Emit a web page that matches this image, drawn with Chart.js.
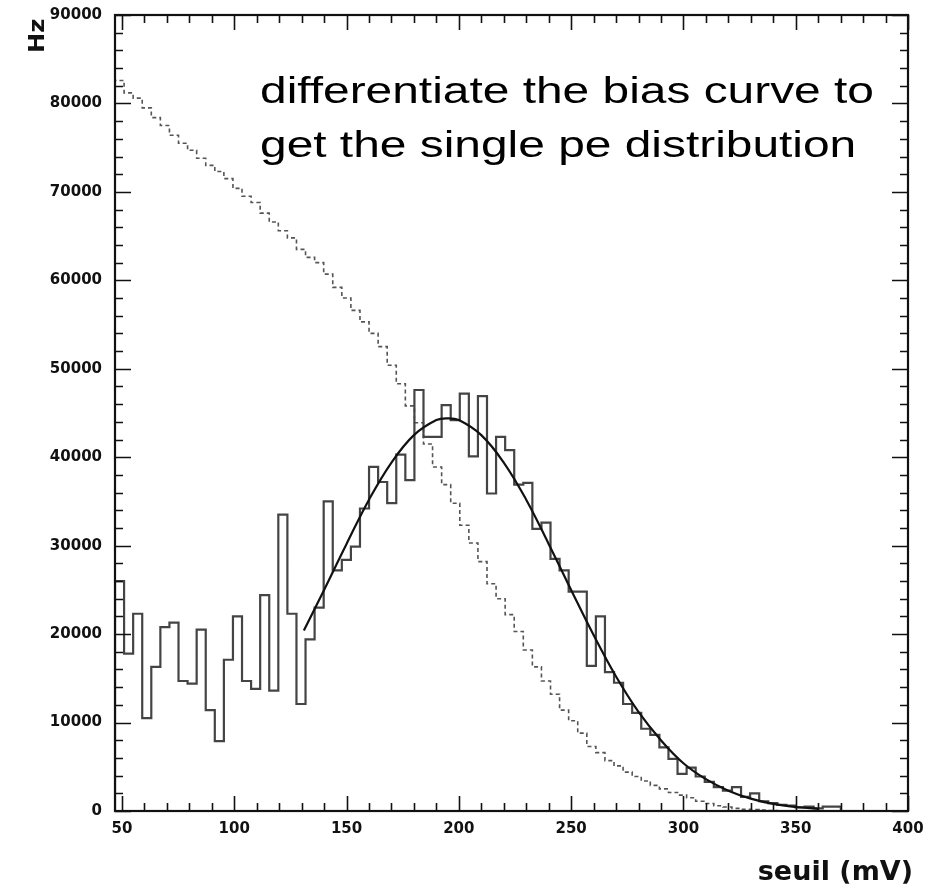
<!DOCTYPE html>
<html>
<head>
<meta charset="utf-8">
<title>seuil (mV)</title>
<script src="https://cdn.jsdelivr.net/npm/chart.js@4.4.1/dist/chart.umd.min.js"></script>
<style>
  html, body { margin: 0; padding: 0; background: #ffffff; }
  #plot { display: block; }
</style>
</head>
<body>
<canvas id="plot" width="929" height="892"></canvas>
<script>
// Threshold scan of a PMT: bias curve and its derivative (single pe spectrum)

// threshold bins (mV)
var binLow = 46.9;
var binWidth = 4.04;

// differentiated rate per threshold bin (Hz)
var pulseRate = [
  26000, 17800, 22300, 10500, 16300, 20800, 21300, 14700, 14400, 20500,
  11400, 7900, 17100, 22000, 14700, 13800, 24400, 13600, 33500, 22300,
  12100, 19400, 23000, 35000, 27200, 28400, 29900, 34200, 38900, 37200,
  34800, 40300, 37400, 47600, 42300, 42300, 45900, 44200, 47200, 40100,
  46900, 35900, 42300, 40800, 36900, 37100, 31900, 32600, 28500, 27200,
  24800, 24800, 16400, 22000, 15700, 14500, 12100, 11100, 9300, 8600,
  7200, 5900, 4200, 4900, 3900, 3300, 2700, 2300, 2700, 1600,
  2000, 1100, 900, 700, 600, 400, 500, 300, 500, 500
];

// raw bias curve: counting rate above threshold (Hz)
var biasRate = [
  82600, 81200, 80600, 79500, 78400, 77500, 76400, 75500, 74700, 73800,
  73000, 72300, 71500, 70400, 69500, 68800, 67600, 66600, 65600, 64800,
  63500, 62600, 62000, 60700, 59200, 58000, 56600, 55300, 54000, 52500,
  50400, 48300, 45800, 43900, 41500, 38900, 36900, 34800, 32300, 30300,
  28200, 25700, 24000, 22200, 20300, 18200, 16300, 14700, 13200, 11400,
  10200, 8800, 7300, 6600, 5700, 5100, 4400, 3900, 3400, 2900,
  2500, 2100, 1800, 1500, 1100, 850, 600, 450, 300, 200,
  150, 100, 50
];

// fitted single pe peak
var fitMv = [131, 140, 150, 160, 170, 180, 190, 195, 200, 210, 220, 230, 240,
             250, 260, 270, 280, 290, 300, 310, 320, 330, 340, 350, 360];
var fitHz = [20400, 25000, 30200, 35200, 39400, 42500, 44200, 44400, 44200, 42500, 39400, 35200, 30200,
             25000, 19900, 15200, 11200, 8000, 5400, 3600, 2300, 1400, 800, 450, 250];

// axis ticks
var xTickLabels = [50, 100, 150, 200, 250, 300, 350, 400];
var yTickLabels = [0, 10000, 20000, 30000, 40000, 50000, 60000, 70000, 80000, 90000];

function histPoints(values) {
  var pts = [{ x: binLow, y: 0 }];
  for (var i = 0; i < values.length; i++) {
    pts.push({ x: binLow + i * binWidth, y: values[i] });
  }
  pts.push({ x: binLow + values.length * binWidth, y: 0 });
  return pts;
}

function fitPoints() {
  return fitMv.map(function (mv, i) { return { x: mv, y: fitHz[i] }; });
}

// PAW-style box: frame, inward ticks on all four sides, labels
var frameAndTicks = {
  id: 'frameAndTicks',
  afterDatasetsDraw: function (chart) {
    var ctx = chart.ctx;
    var a = chart.chartArea;
    var xs = chart.scales.x;
    var ys = chart.scales.y;
    var v, px, major;

    ctx.save();
    ctx.strokeStyle = '#111111';
    ctx.lineWidth = 1.6;
    ctx.beginPath();
    for (v = 50; v <= 400; v += 10) {
      px = Math.round(xs.getPixelForValue(v)) + 0.5;
      major = v % 50 === 0;
      var lx = major ? 15 : 8;
      ctx.moveTo(px, a.bottom); ctx.lineTo(px, a.bottom - lx);
      ctx.moveTo(px, a.top); ctx.lineTo(px, a.top + lx);
    }
    for (v = 0; v <= 90000; v += 2000) {
      px = Math.round(ys.getPixelForValue(v)) + 0.5;
      major = v % 10000 === 0;
      var ly = major ? 16 : 8;
      ctx.moveTo(a.left, px); ctx.lineTo(a.left + ly, px);
      ctx.moveTo(a.right, px); ctx.lineTo(a.right - ly, px);
    }
    ctx.stroke();

    ctx.lineWidth = 2.2;
    ctx.strokeRect(a.left, a.top, a.right - a.left, a.bottom - a.top);

    ctx.fillStyle = '#111111';
    ctx.font = 'bold 15px "DejaVu Sans"';
    ctx.textBaseline = 'middle';
    ctx.textAlign = 'right';
    yTickLabels.forEach(function (t) {
      ctx.fillText(String(t), 102, ys.getPixelForValue(t));
    });
    ctx.textAlign = 'center';
    xTickLabels.forEach(function (t) {
      ctx.fillText(String(t), xs.getPixelForValue(t), 829);
    });

    ctx.textBaseline = 'alphabetic';
    ctx.textAlign = 'right';
    ctx.font = 'bold 27px "DejaVu Sans"';
    ctx.fillText('seuil (mV)', 913, 880);

    ctx.save();
    ctx.translate(44, 53);
    ctx.rotate(-Math.PI / 2);
    ctx.scale(1.15, 1);
    ctx.textAlign = 'left';
    ctx.font = 'bold 21px "DejaVu Sans"';
    ctx.fillText('Hz', 0, 0);
    ctx.restore();

    // note in the upper right
    ctx.save();
    ctx.translate(260, 0);
    ctx.scale(1.33, 1);
    ctx.textAlign = 'left';
    ctx.font = '36px "Liberation Sans"';
    ctx.fillStyle = '#000000';
    ctx.fillText('differentiate the bias curve to', 0, 103);
    ctx.fillText('get the single pe distribution', 0, 157);
    ctx.restore();

    ctx.restore();
  }
};

new Chart(document.getElementById('plot'), {
  type: 'line',
  data: {
    datasets: [
      {
        data: fitPoints(),
        borderColor: '#111111',
        borderWidth: 2.2,
        tension: 0.4,
        pointRadius: 0,
        fill: false
      },
      {
        data: histPoints(pulseRate),
        borderColor: '#444444',
        borderWidth: 2.2,
        stepped: 'before',
        pointRadius: 0,
        fill: false
      },
      {
        data: histPoints(biasRate),
        borderColor: '#555555',
        borderWidth: 1.6,
        borderDash: [4, 3],
        stepped: 'before',
        pointRadius: 0,
        fill: false
      }
    ]
  },
  options: {
    responsive: false,
    animation: false,
    events: [],
    layout: { padding: { left: 115, right: 21, top: 15, bottom: 81 } },
    plugins: { legend: { display: false }, tooltip: { enabled: false } },
    scales: {
      x: { type: 'linear', min: 46.9, max: 400, display: false },
      y: { type: 'linear', min: 0, max: 90000, display: false }
    }
  },
  plugins: [frameAndTicks]
});
</script>
</body>
</html>
